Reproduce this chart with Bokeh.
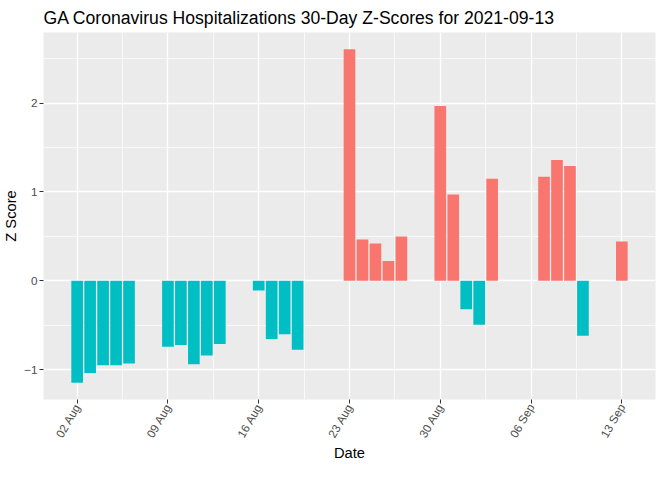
import math
import pandas as pd
from bokeh.plotting import figure
from bokeh.models import ColumnDataSource, FixedTicker, DatetimeTickFormatter, Range1d
from bokeh.embed import file_html
from bokeh.resources import INLINE

dates = ["2021-08-02", "2021-08-03", "2021-08-04", "2021-08-05", "2021-08-06",
         "2021-08-09", "2021-08-10", "2021-08-11", "2021-08-12", "2021-08-13",
         "2021-08-16", "2021-08-17", "2021-08-18", "2021-08-19",
         "2021-08-23", "2021-08-24", "2021-08-25", "2021-08-26", "2021-08-27",
         "2021-08-30", "2021-08-31", "2021-09-01", "2021-09-02", "2021-09-03",
         "2021-09-07", "2021-09-08", "2021-09-09", "2021-09-10",
         "2021-09-13"]
zscores = [-1.15, -1.04, -0.953, -0.953, -0.931,
           -0.745, -0.723, -0.942, -0.843, -0.712,
           -0.109, -0.657, -0.602, -0.777,
           2.608, 0.464, 0.42, 0.221, 0.497,
           1.967, 0.972, -0.32, -0.497, 1.149,
           1.171, 1.359, 1.293, -0.619,
           0.442]
tick_dates = ["2021-08-02", "2021-08-09", "2021-08-16", "2021-08-23",
              "2021-08-30", "2021-09-06", "2021-09-13"]
y_ticks = [-1, 0, 1, 2]
y_minor = [-0.5, 0.5, 1.5, 2.5]
title_text = "GA Coronavirus Hospitalizations 30-Day Z-Scores for 2021-09-13"

POS = "#F8766D"
NEG = "#00BFC4"
DAY = 86400000.0
FONT = "Liberation Sans"

x = pd.to_datetime(dates)
colors = [POS if v > 0 else NEG for v in zscores]
src = ColumnDataSource(dict(x=x, top=zscores, color=colors))

def ms(d):
    return pd.Timestamp(d).value / 1e6

t_ms = [ms(d) for d in tick_dates]
minor_ms = [t + 3.5 * DAY for t in t_ms[:-1]] + [t_ms[0] - 3.5 * DAY, t_ms[-1] + 3.5 * DAY]

first = ms(dates[0]) - 0.45 * DAY
last = ms(dates[-1]) + 0.45 * DAY
padx = (last - first) * 0.05
ymin, ymax = min(zscores), max(zscores)
pady = (ymax - ymin) * 0.05

p = figure(width=656, height=464, x_axis_type="datetime",
           output_backend="svg", toolbar_location=None,
           x_range=Range1d(first - padx, last + padx),
           y_range=Range1d(ymin - pady, ymax + pady),
           min_border_left=35, min_border_right=1, min_border_top=24, min_border_bottom=60)

p.vbar(x="x", top="top", bottom=0, width=0.9 * DAY, fill_color="color",
       line_color=None, source=src)

p.title.text = title_text
p.title.text_font = FONT
p.title.text_font_size = "17.6px"
p.title.text_font_style = "normal"
p.title.text_color = "black"

p.background_fill_color = "#EBEBEB"
p.border_fill_color = "white"
p.outline_line_color = None

p.xaxis.ticker = FixedTicker(ticks=t_ms, minor_ticks=minor_ms)
fmt = "%d %b"
p.xaxis.formatter = DatetimeTickFormatter(milliseconds=fmt, seconds=fmt, minsec=fmt,
                                          minutes=fmt, hourmin=fmt, hours=fmt,
                                          days=fmt, months=fmt, years=fmt)
p.xaxis.major_label_orientation = math.pi / 3
p.yaxis.ticker = FixedTicker(ticks=y_ticks, minor_ticks=y_minor)

for ax in (p.xaxis, p.yaxis):
    ax.axis_line_color = None
    ax.major_tick_line_color = "#333333"
    ax.major_tick_in = 0
    ax.major_tick_out = 4
    ax.minor_tick_line_color = None
    ax.major_label_standoff = 2
    ax.axis_label_standoff = 2
    ax.major_label_text_font = FONT
    ax.major_label_text_font_size = "11.7px"
    ax.major_label_text_color = "#4D4D4D"
    ax.axis_label_text_font = FONT
    ax.axis_label_text_font_size = "14.7px"
    ax.axis_label_text_font_style = "normal"
    ax.axis_label_text_color = "black"

p.xaxis.major_label_standoff = 1
p.xaxis.axis_label_standoff = -1

p.xaxis.axis_label = "Date"
p.yaxis.axis_label = "Z Score"

for g in (p.xgrid, p.ygrid):
    g.grid_line_color = "white"
    g.grid_line_width = 1.3
    g.minor_grid_line_color = "white"
    g.minor_grid_line_width = 0.7

open("out.html", "w").write(file_html(p, INLINE))
